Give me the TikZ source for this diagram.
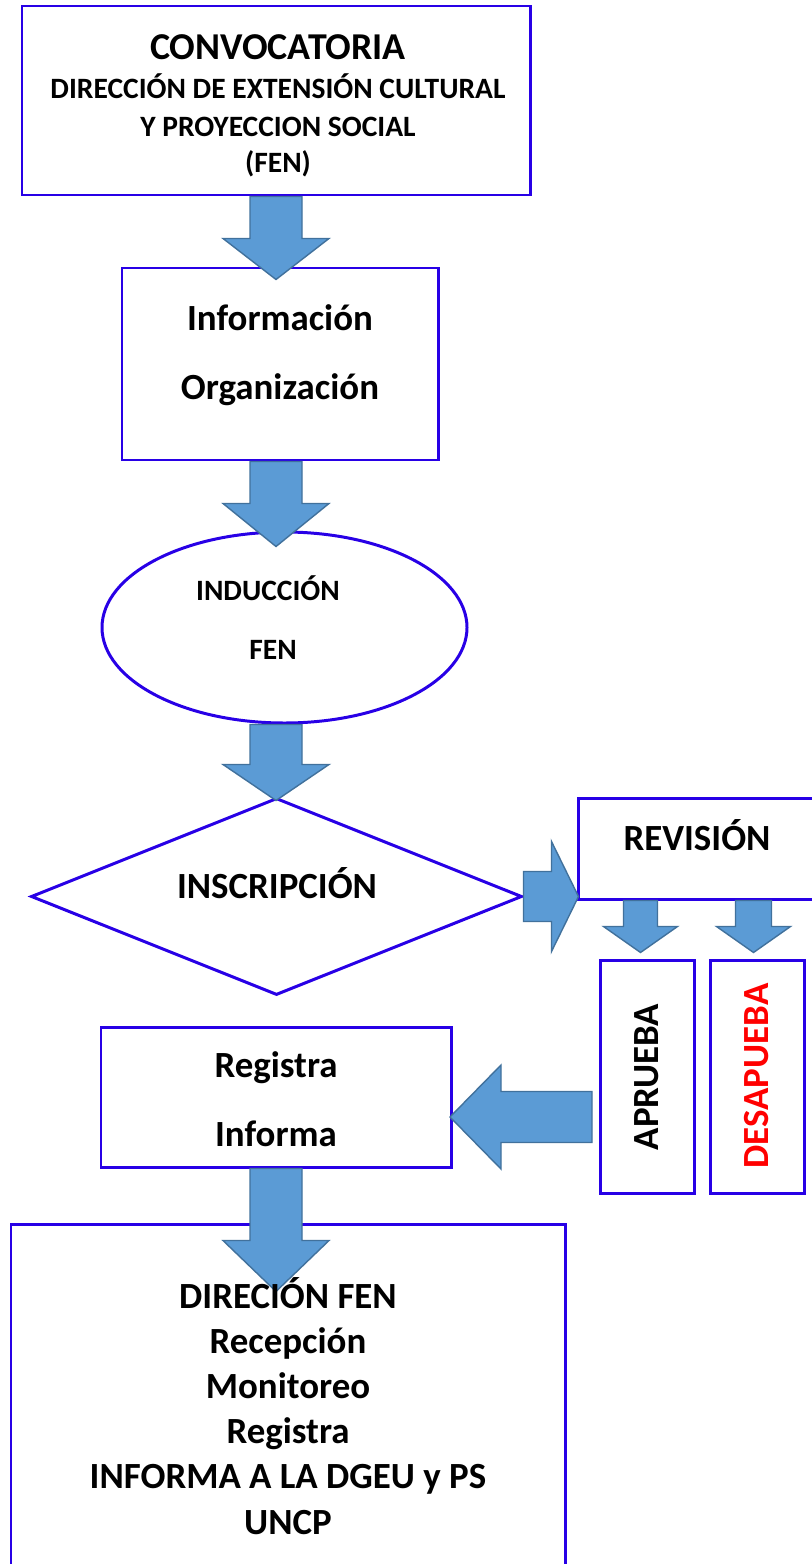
\documentclass[tikz,border=0pt]{standalone}
\usepackage{fontspec}
\setmainfont{Carlito}
\usepackage{xcolor}
\usepackage{tikz}
\usetikzlibrary{positioning,calc,shapes.geometric}

\definecolor{azulborde}{RGB}{40,0,230}
\definecolor{azulflecha}{RGB}{91,155,213}
\definecolor{bordeflecha}{RGB}{65,113,156}
\definecolor{rojotexto}{RGB}{255,0,0}

\newcommand{\upx}{0.02cm}
% flecha de bloque: origen, giro, medio cuerpo, media cabeza, largo cuerpo, largo total
\newcommand{\flechabloque}[6]{%
  \draw[flecha,shift={(#1)},rotate=#2] (0,-#3) -- (#5,-#3) -- (#5,-#4) -- (#6,0)
    -- (#5,#4) -- (#5,#3) -- (0,#3) -- cycle;}

\begin{document}
\begin{tikzpicture}[x=0.02cm,y=-0.02cm,
    caja/.style 2 args={draw=azulborde,line width=1.7pt,fill=white,inner sep=0pt,
      minimum width=#1*\upx,minimum height=#2*\upx},
    flecha/.style={fill=azulflecha,draw=bordeflecha,line width=0.8pt,line join=miter},
    letra/.style={font=\bfseries\fontsize{21}{25}\selectfont,inner sep=0pt,anchor=base},
    letrachica/.style={font=\bfseries\fontsize{16.8}{20}\selectfont,inner sep=0pt,anchor=base}]
  \useasboundingbox (0,0) rectangle (811,1564);

  % cajas
  \node[caja={508}{189}] (conv) at (276,100.5) {};
  \node[caja={316}{192}] (info) at (280,364) {};
  \node[caja={365}{191},ellipse] (induc) at (284.5,627.5) {};
  \node[caja={491}{197},diamond] (insc) at (276.5,896.5) {};
  \node[caja={238}{101}] (revision) at (697,848.5) {};
  \node[caja={94}{233}] (aprueba) at (647,1076.5) {};
  \node[caja={94}{233}] (desaprueba) at (757,1076.5) {};
  \node[caja={350}{140}] (registra) at (276,1097) {};
  \node[caja={554}{376}] (direccion) at (288,1412) {};

  % flechas
  \flechabloque{conv.south}{-90}{26}{53}{42}{83}
  \flechabloque{info.south -| conv.south}{-90}{26}{53}{42}{85}
  \flechabloque{induc.south -| conv.south}{-90}{26}{53}{40}{76}
  \flechabloque{insc.east}{0}{25}{55}{28}{55}
  \coordinate (salidaA) at ($(revision.south west)+(64,0)$);
  \coordinate (salidaD) at ($(revision.south west)+(177,0)$);
  \flechabloque{salidaA}{-90}{17}{37}{26}{52}
  \flechabloque{salidaD}{-90}{18}{37}{26}{52}
  \coordinate (retorno) at (592,1117);
  \flechabloque{retorno}{180}{25.5}{52}{91}{142}
  \flechabloque{registra.south}{-90}{26}{53}{72}{123}

  % textos
  \node[letra,font=\bfseries\fontsize{21.6}{25}\selectfont] (t1) at (278,60) {CONVOCATORIA};
  \node[letrachica] (t2) at (278,99) {DIRECCIÓN DE EXTENSIÓN CULTURAL};
  \node[letrachica] (t3) at (278,137) {Y PROYECCION SOCIAL};
  \node[letrachica] (t4) at (278,173) {(FEN)};
  \node[letra] (t5) at (280,331) {Información};
  \node[letra] (t6) at (280,399) {Organización};
  \node[letrachica] (t7) at (268,600.5) {INDUCCIÓN};
  \node[letrachica] (t8) at (273,659.5) {FEN};
  \node[letra] (t9) at (277,898) {INSCRIPCIÓN};
  \node[letra] (t10) at (697,850) {REVISIÓN};
  \node[letra,anchor=center,rotate=90] (t11) at (647,1077) {APRUEBA};
  \node[letra,anchor=center,rotate=90,text=rojotexto] (t12) at (757,1076) {DESAPUEBA};
  \node[letra] (t13) at (276,1077) {Registra};
  \node[letra] (t14) at (276,1146) {Informa};
  \foreach \t [count=\i] in {DIRECIÓN FEN,Recepción,Monitoreo,Registra,INFORMA A LA DGEU y PS,UNCP}
    \node[letra] (d\i) at (288,{1308+45.2*(\i-1)}) {\t};
\end{tikzpicture}
\end{document}
